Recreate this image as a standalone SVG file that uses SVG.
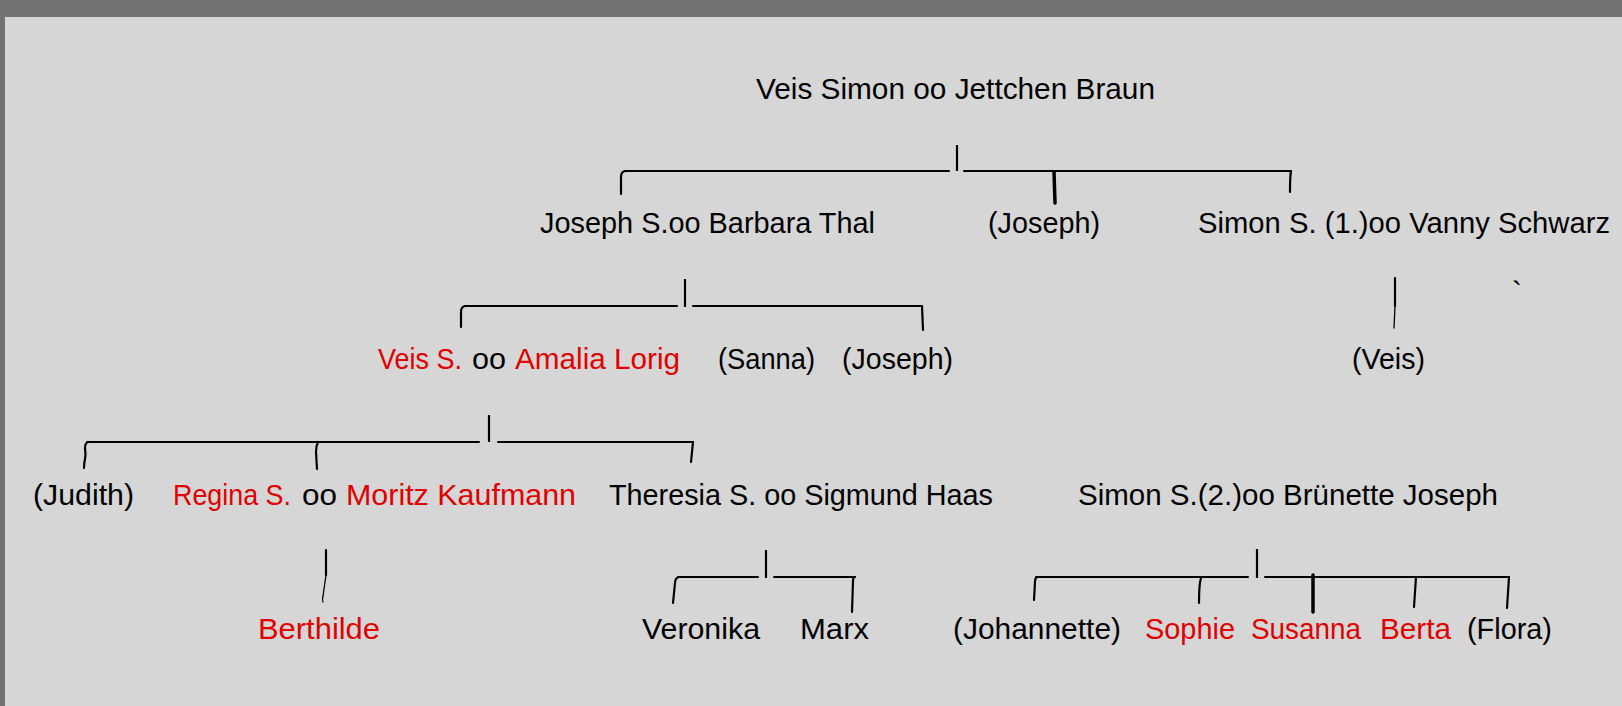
<svg xmlns="http://www.w3.org/2000/svg" width="1622" height="706" viewBox="0 0 1622 706">
<style>
text{font-family:"Liberation Sans",Arial,sans-serif;font-size:30px;fill:#000}
.r{fill:#e20000}
.ln{stroke:#000;stroke-width:2;fill:none;stroke-linecap:round}
.tk{stroke:#000;stroke-width:2.2;fill:none;stroke-linecap:round}
.th{stroke:#000;stroke-width:3.5;fill:none;stroke-linecap:round}
.bar{stroke:#000;stroke-width:2.2;fill:none}
</style>
<rect width="1622" height="706" fill="#737373"/>
<rect x="5" y="17" width="1617" height="689" fill="#d6d6d6"/>

<g id="connectors">
  <!-- gen 0 -> gen 1 -->
  <path class="bar" d="M957,145 V171"/>
  <path class="ln" d="M625,171 H949 M964,171 H1291"/>
  <path class="tk" d="M626,171 Q621,171 621,177 L621,194"/>
  <path class="th" d="M1054,172 L1055,203"/>
  <path class="tk" d="M1291,171 Q1290,176 1290,192"/>
  <!-- Joseph S. -> children -->
  <path class="bar" d="M685,279 V307"/>
  <path class="ln" d="M465,306 H677 M693,306 H922"/>
  <path class="tk" d="M466,306 Q461,306 461,312 L461,327"/>
  <path class="tk" d="M922,306 L923,330"/>
  <!-- Simon S. (1.) -> Veis -->
  <path class="tk" d="M1395,278 L1395,306"/>
  <path class="ln" style="stroke-width:1.3" d="M1395,306 L1394,328"/>
  <!-- Veis S. -> children -->
  <path class="bar" d="M489,415 V442"/>
  <path class="ln" d="M87,442 H479 M498,442 H693"/>
  <path class="tk" d="M88,442 Q85,443 85,448 Q86,454 85,459 Q84,464 84,468"/>
  <path class="tk" d="M318,442 Q316,446 316,452 L317,469"/>
  <path class="tk" d="M693,442 L691,462"/>
  <!-- Regina -> Berthilde -->
  <path class="tk" d="M326,550 L326,575"/>
  <path class="ln" style="stroke-width:1.3" d="M326,575 L323,596 Q322,600 323,602"/>
  <!-- Theresia -> children -->
  <path class="bar" d="M766,550 V578"/>
  <path class="ln" d="M678,577 H758 M774,577 H855"/>
  <path class="tk" d="M679,577 Q675,578 675,583 L673,603"/>
  <path class="tk" d="M855,577 Q853,577 853,581 L852,612"/>
  <!-- Simon S. (2.) -> children -->
  <path class="bar" d="M1257,549 V578"/>
  <path class="ln" d="M1036,577 H1248 M1265,577 H1509"/>
  <path class="tk" d="M1038,577 Q1035,577 1035,582 L1034,600"/>
  <path class="tk" d="M1201,578 Q1199,584 1199,603"/>
  <path class="th" d="M1313,575 L1313,612"/>
  <path class="tk" d="M1416,577 L1414,607"/>
  <path class="tk" d="M1509,577 L1507,608"/>
</g>

<g id="n-veis-simon"><text x="756" y="99" textLength="399" lengthAdjust="spacingAndGlyphs">Veis Simon oo Jettchen Braun</text></g>

<g id="n-joseph-s"><text x="540" y="233" textLength="335" lengthAdjust="spacingAndGlyphs">Joseph S.oo Barbara Thal</text></g>
<g id="n-joseph-1"><text x="988" y="233" textLength="112" lengthAdjust="spacingAndGlyphs">(Joseph)</text></g>
<g id="n-simon-1"><text x="1198" y="233" textLength="412" lengthAdjust="spacingAndGlyphs">Simon S. (1.)oo Vanny Schwarz</text></g>
<g id="n-tick"><text x="1512" y="302">`</text></g>

<g id="n-veis-s">
  <text class="r" x="378" y="369" textLength="84" lengthAdjust="spacingAndGlyphs">Veis S.</text>
  <text x="472" y="369" textLength="34" lengthAdjust="spacingAndGlyphs">oo</text>
  <text class="r" x="515" y="369" textLength="165" lengthAdjust="spacingAndGlyphs">Amalia Lorig</text>
</g>
<g id="n-sanna"><text x="718" y="369" textLength="97" lengthAdjust="spacingAndGlyphs">(Sanna)</text></g>
<g id="n-joseph-2"><text x="842" y="369" textLength="111" lengthAdjust="spacingAndGlyphs">(Joseph)</text></g>
<g id="n-veis-2"><text x="1352" y="369" textLength="73" lengthAdjust="spacingAndGlyphs">(Veis)</text></g>

<g id="n-judith"><text x="33" y="505" textLength="101" lengthAdjust="spacingAndGlyphs">(Judith)</text></g>
<g id="n-regina">
  <text class="r" x="173" y="505" textLength="118" lengthAdjust="spacingAndGlyphs">Regina S.</text>
  <text x="302" y="505" textLength="35" lengthAdjust="spacingAndGlyphs">oo</text>
  <text class="r" x="346" y="505" textLength="230" lengthAdjust="spacingAndGlyphs">Moritz Kaufmann</text>
</g>
<g id="n-theresia"><text x="609" y="505" textLength="384" lengthAdjust="spacingAndGlyphs">Theresia S. oo Sigmund Haas</text></g>
<g id="n-simon-2"><text x="1078" y="505" textLength="420" lengthAdjust="spacingAndGlyphs">Simon S.(2.)oo Brünette Joseph</text></g>

<g id="n-berthilde"><text class="r" x="258" y="639" textLength="122" lengthAdjust="spacingAndGlyphs">Berthilde</text></g>
<g id="n-veronika"><text x="642" y="639" textLength="118" lengthAdjust="spacingAndGlyphs">Veronika</text></g>
<g id="n-marx"><text x="800" y="639" textLength="69" lengthAdjust="spacingAndGlyphs">Marx</text></g>
<g id="n-johannette"><text x="953" y="639" textLength="168" lengthAdjust="spacingAndGlyphs">(Johannette)</text></g>
<g id="n-sophie"><text class="r" x="1145" y="639" textLength="90" lengthAdjust="spacingAndGlyphs">Sophie</text></g>
<g id="n-susanna"><text class="r" x="1251" y="639" textLength="110" lengthAdjust="spacingAndGlyphs">Susanna</text></g>
<g id="n-berta"><text class="r" x="1380" y="639" textLength="71" lengthAdjust="spacingAndGlyphs">Berta</text></g>
<g id="n-flora"><text x="1467" y="639" textLength="85" lengthAdjust="spacingAndGlyphs">(Flora)</text></g>
</svg>
